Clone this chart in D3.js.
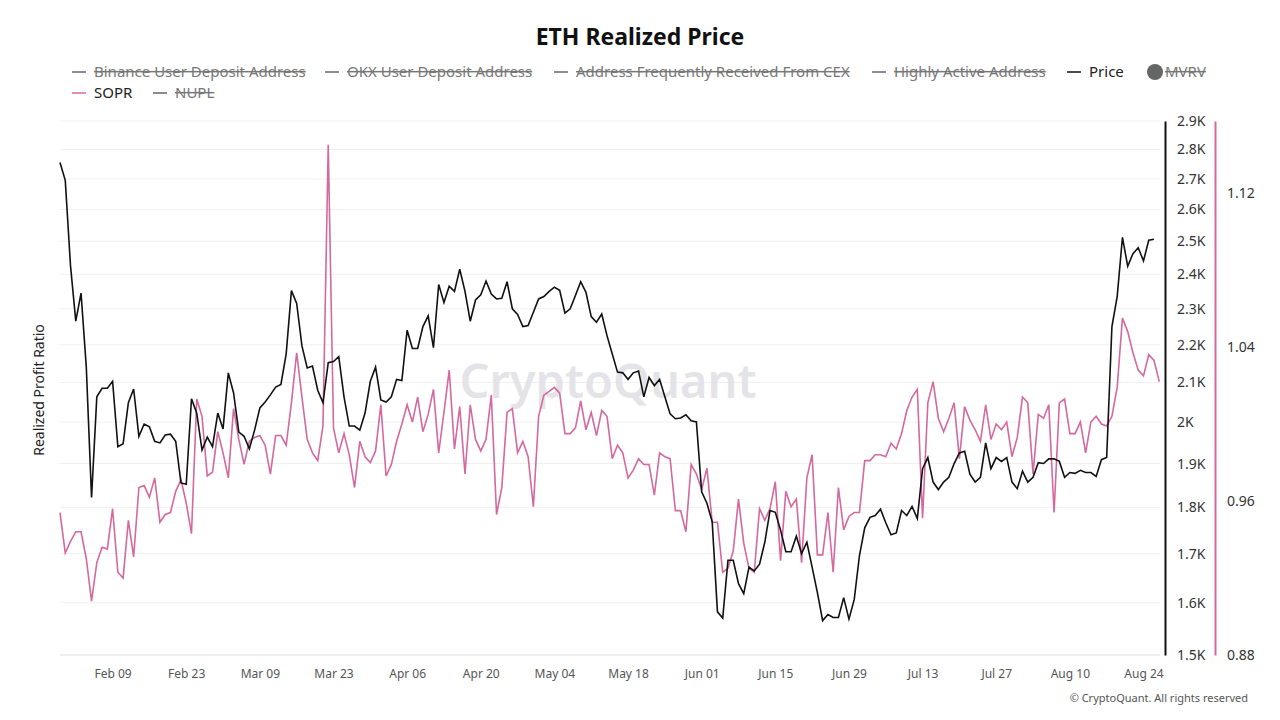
<!DOCTYPE html>
<html>
<head>
<meta charset="utf-8">
<script src="https://cdn.jsdelivr.net/npm/d3@7"></script>
<style>
  body { margin: 0; background: #fff; }
  svg { font-family: "Noto Sans", "Open Sans", sans-serif; }
</style>
</head>
<body>
<svg id="svg" width="1280" height="720"></svg>
<script>
// daily values, starting Jan 30
var start_date = new Date(2023, 0, 30);

var price = [2755,2695,2425,2265,2345,2140,1822,2063,2085,2085,2103,1940,1947,2048,2083,1965,1995,1988,1953,1949,
  1968,1970,1953,1855,1852,2058,2022,1932,1963,1940,2022,1983,2125,2073,1975,1965,1935,1980,2035,2050,
  2068,2088,2095,2175,2352,2315,2197,2138,2143,2080,2048,2152,2155,2168,2063,1990,1990,1980,2022,2103,
  2140,2055,2050,2063,2108,2105,2240,2190,2190,2250,2280,2192,2370,2318,2365,2350,2415,2350,2265,2325,
  2340,2380,2342,2328,2330,2378,2300,2284,2250,2253,2290,2328,2335,2350,2362,2353,2288,2300,2338,2378,
  2347,2278,2262,2285,2225,2175,2127,2125,2108,2125,2130,2063,2113,2092,2108,2063,2020,2008,2010,2018,
  2003,2000,1835,1809,1768,1582,1570,1686,1686,1638,1618,1672,1664,1678,1724,1793,1789,1750,1704,1704,
  1737,1700,1724,1672,1620,1565,1577,1571,1571,1610,1568,1606,1696,1755,1778,1782,1796,1766,1740,1744,
  1793,1782,1802,1775,1888,1914,1857,1840,1857,1868,1900,1925,1929,1875,1857,1868,1949,1888,1914,1905,
  1914,1857,1842,1882,1857,1868,1902,1900,1911,1911,1905,1868,1879,1877,1884,1879,1879,1870,1909,1914,
  2250,2335,2512,2424,2462,2480,2440,2503,2506];

var sopr = [0.954,0.933,0.939,0.944,0.944,0.930,0.908,0.928,0.936,0.935,0.956,0.923,0.920,0.950,0.931,0.967,0.968,0.962,0.972,
  0.949,0.953,0.954,0.965,0.971,0.959,0.943,1.013,1.004,0.973,0.975,0.996,0.985,0.972,1.008,0.992,0.979,0.991,0.993,0.994,
  0.989,0.974,0.994,0.994,0.989,1.011,1.037,1.014,0.992,0.985,0.981,0.999,1.145,0.998,0.985,0.995,0.984,0.967,0.991,0.983,
  0.980,0.986,1.010,0.973,0.979,0.991,1.000,1.010,1.001,1.014,0.996,1.005,1.018,0.985,1.006,1.028,0.987,1.009,0.974,1.010,
  0.992,0.986,0.992,1.015,0.953,0.967,1.006,1.008,0.985,0.991,0.983,0.957,1.004,1.015,1.017,1.019,1.016,0.995,0.995,0.998,
  1.012,0.997,1.006,0.994,1.007,1.004,0.982,0.989,0.985,0.972,0.976,0.982,0.979,0.979,0.963,0.985,0.983,0.982,0.955,0.955,
  0.944,0.979,0.974,0.966,0.977,0.949,0.949,0.923,0.925,0.934,0.961,0.938,0.925,0.923,0.956,0.950,0.956,0.970,0.929,0.965,
  0.957,0.961,0.928,0.972,0.984,0.932,0.932,0.954,0.923,0.967,0.945,0.952,0.954,0.954,0.981,0.981,0.984,0.984,0.983,0.990,
  0.987,0.995,1.007,1.014,1.018,0.951,1.011,1.022,1.003,0.996,1.003,1.011,0.982,1.009,1.002,0.997,0.991,1.010,0.992,1.000,
  0.997,1.001,0.983,0.993,1.014,1.011,0.974,1.005,1.003,1.010,0.954,1.011,1.013,0.995,0.995,1.001,0.985,1.001,1.004,1.000,
  0.999,1.004,1.019,1.055,1.048,1.037,1.028,1.025,1.036,1.033,1.022];

var price_ticks = [1500,1600,1700,1800,1900,2000,2100,2200,2300,2400,2500,2600,2700,2800,2900];
var sopr_ticks  = [0.88, 0.96, 1.04, 1.12];

var legend_row1 = [
  {name: "Binance User Deposit Address",        x: 72,   color: "#666", off: true},
  {name: "OKX User Deposit Address",            x: 325,  color: "#666", off: true},
  {name: "Address Frequently Received From CEX", x: 554, color: "#666", off: true},
  {name: "Highly Active Address",               x: 872,  color: "#666", off: true},
  {name: "Price",                               x: 1067, color: "#111", off: false},
  {name: "MVRV",                                x: 1150, color: "#666", off: true, dot: true}
];
var legend_row2 = [
  {name: "SOPR", x: 72,  color: "#d4699f", off: false},
  {name: "NUPL", x: 153, color: "#666",    off: true}
];

var pink = "#d4699f";
var plot_left = 60, plot_right = 1160, plot_top = 121, plot_bottom = 655;

var svg = d3.select("#svg");

function day(i) { return d3.timeDay.offset(start_date, i); }

var x = d3.scaleTime()
  .domain([start_date, day(price.length - 1)])
  .range([plot_left, plot_right - 6]);

var yp = d3.scaleLog().domain([1500, 2900]).range([plot_bottom, plot_top]);
var ys = d3.scaleLinear().domain([0.88, 0.88 + (plot_bottom - plot_top) / 1925]).range([plot_bottom, plot_top]);

// grid
svg.append("g").selectAll("line")
  .data(price_ticks.slice(1))
  .enter().append("line")
  .attr("x1", plot_left).attr("x2", plot_right)
  .attr("y1", function(d) { return yp(d); })
  .attr("y2", function(d) { return yp(d); })
  .attr("stroke", "#f0f0f0");

svg.append("line")
  .attr("x1", plot_left).attr("x2", plot_right).attr("y1", plot_bottom).attr("y2", plot_bottom)
  .attr("stroke", "#ddd");

// watermark
svg.append("text")
  .attr("x", 608).attr("y", 398)
  .attr("text-anchor", "middle")
  .attr("font-size", 47)
  .attr("font-weight", 600)
  .attr("fill", "#e4e4e8")
  .text("CryptoQuant");

// x axis
var x_ticks = d3.timeDay.range(new Date(2023, 1, 9), day(price.length), 14);
svg.append("g")
  .attr("transform", "translate(0," + plot_bottom + ")")
  .call(d3.axisBottom(x).tickValues(x_ticks).tickFormat(d3.timeFormat("%b %d")).tickSize(0).tickPadding(14))
  .call(function(g) { g.select(".domain").remove(); })
  .selectAll("text").attr("font-size", 12).attr("fill", "#555").attr("font-family", "Noto Sans");

// price axis
svg.append("g")
  .attr("transform", "translate(1165,0)")
  .call(d3.axisRight(yp).tickValues(price_ticks)
    .tickFormat(function(d) { return d === 2000 ? "2K" : d3.format(".1f")(d / 1000) + "K"; })
    .tickSize(0).tickPadding(12))
  .call(function(g) { g.select(".domain").attr("stroke", "#111").attr("stroke-width", 2); })
  .selectAll("text").attr("font-size", 14).attr("fill", "#333").attr("font-family", "Noto Sans");

// sopr axis
svg.append("g")
  .attr("transform", "translate(1215,0)")
  .call(d3.axisRight(ys).tickValues(sopr_ticks).tickFormat(d3.format(".2f")).tickSize(0).tickPadding(12))
  .call(function(g) { g.select(".domain").attr("stroke", pink).attr("stroke-width", 2); })
  .selectAll("text").attr("font-size", 14).attr("fill", "#333").attr("font-family", "Noto Sans");

// lines
svg.append("path")
  .datum(sopr)
  .attr("fill", "none").attr("stroke", pink).attr("stroke-width", 1.6)
  .attr("d", d3.line().x(function(d, i) { return x(day(i)); }).y(function(d) { return ys(d); }));

svg.append("path")
  .datum(price)
  .attr("fill", "none").attr("stroke", "#111").attr("stroke-width", 1.6)
  .attr("d", d3.line().x(function(d, i) { return x(day(i)); }).y(function(d) { return yp(d); }));

// title & labels
svg.append("text")
  .attr("x", 640).attr("y", 45).attr("text-anchor", "middle")
  .attr("font-size", 23).attr("font-weight", "bold").attr("fill", "#111")
  .text("ETH Realized Price");

svg.append("text")
  .attr("transform", "translate(44,390) rotate(-90)")
  .attr("text-anchor", "middle").attr("font-size", 14).attr("fill", "#222")
  .text("Realized Profit Ratio");

svg.append("text")
  .attr("x", 1248).attr("y", 702).attr("text-anchor", "end")
  .attr("font-size", 11).attr("fill", "#555")
  .text("© CryptoQuant. All rights reserved");

// legend
function draw_legend(items, y) {
  var g = svg.append("g");
  items.forEach(function(it) {
    if (it.dot) {
      g.append("circle").attr("cx", it.x + 5).attr("cy", y).attr("r", 8).attr("fill", "#666");
    } else {
      g.append("line").attr("x1", it.x).attr("x2", it.x + 14).attr("y1", y).attr("y2", y)
        .attr("stroke", it.color).attr("stroke-width", 1.5);
    }
    g.append("text")
      .attr("x", it.x + (it.dot ? 15 : 22)).attr("y", y + 5)
      .attr("font-size", 15)
      .attr("fill", it.off ? "#777" : "#222")
      .attr("text-decoration", it.off ? "line-through" : null)
      .text(it.name);
  });
}
draw_legend(legend_row1, 72);
draw_legend(legend_row2, 93);
</script>
</body>
</html>
